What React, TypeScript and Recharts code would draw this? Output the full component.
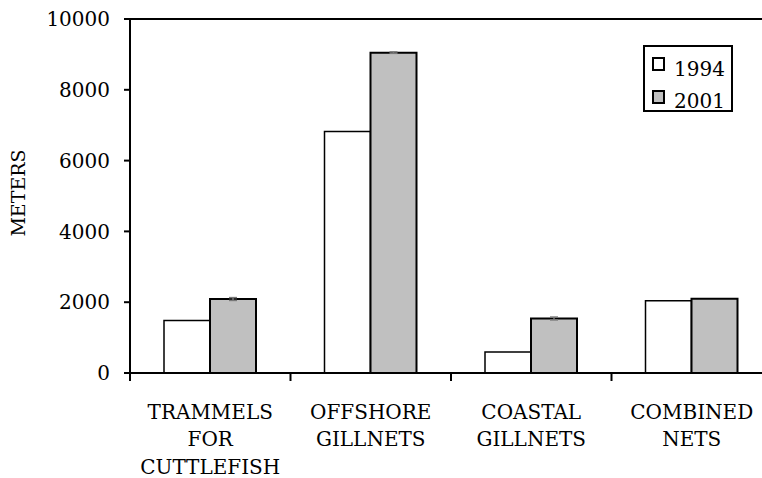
import { Bar, BarChart, ErrorBar, Legend, ReferenceLine, XAxis, YAxis } from 'recharts'

const categories = ['TRAMMELS\nFOR\nCUTTLEFISH', 'OFFSHORE\nGILLNETS', 'COASTAL\nGILLNETS', 'COMBINED\nNETS']
const meters1994 = [1480, 6820, 590, 2040]
const meters2001 = [2090, 9050, 1540, 2100]
const error2001 = [40, 20, 40, 0]
const yTicks = [0, 2000, 4000, 6000, 8000, 10000]
const years = ['1994', '2001']

const data = categories.map((name, i) => ({
  name,
  y1994: meters1994[i],
  y2001: meters2001[i],
  err: error2001[i],
}))

const FONT = '"DejaVu Serif", serif'
const W = 790
const H = 478
const margin = { top: 19, right: 18, left: 0, bottom: 0 }
const yAxisWidth = 130
const band = (W - margin.left - margin.right - yAxisWidth) / categories.length

function CategoryTick({ x, y, payload }: any) {
  const lines = String(payload.value).split('\n')
  const bx = x - band / 2
  return (
    <g>
      <line x1={bx} x2={bx} y1={y} y2={y + 8} stroke="#000" strokeWidth={2} />
      <text x={x} y={y + 45.5} textAnchor="middle" fontFamily={FONT} fontSize={20} fill="#000">
        {lines.map((l, i) => (
          <tspan key={i} x={x} dy={i === 0 ? 0 : 27.5}>
            {l}
          </tspan>
        ))}
      </text>
    </g>
  )
}

function YLabel() {
  return (
    <text
      x={25}
      y={193}
      transform="rotate(-90 25 193)"
      textAnchor="middle"
      fontFamily={FONT}
      fontSize={19}
      fill="#000"
    >
      METERS
    </text>
  )
}

function LegendBox() {
  const fills = ['#ffffff', '#c0c0c0']
  return (
    <svg width={90} height={72} style={{ overflow: 'visible' }}>
      <rect x={1} y={1} width={88} height={65} fill="#fff" stroke="#000" strokeWidth={2} />
      {years.map((yr, i) => (
        <g key={yr}>
          <rect x={10} y={13 + i * 33} width={11} height={12} fill={fills[i]} stroke="#000" strokeWidth={2} />
          <text x={31} y={31 + i * 32} fontFamily={FONT} fontSize={20} fill="#000">
            {yr}
          </text>
        </g>
      ))}
    </svg>
  )
}

export default function App() {
  return (
    <div
      style={{
        position: 'absolute',
        left: 0,
        top: 0,
        width: 762,
        height: 478,
        overflow: 'hidden',
        background: '#fff',
      }}
    >
      <BarChart width={W} height={H} data={data} margin={margin} barGap={0} barSize={46}>
        <XAxis
          dataKey="name"
          interval={0}
          height={105}
          tickSize={0}
          tickMargin={0}
          tickLine={false}
          axisLine={{ stroke: '#000', strokeWidth: 2 }}
          tick={<CategoryTick />}
        />
        <YAxis
          width={yAxisWidth}
          domain={[0, 10000]}
          ticks={yTicks}
          tickSize={6}
          tickMargin={14}
          axisLine={{ stroke: '#000', strokeWidth: 2 }}
          tickLine={{ stroke: '#000', strokeWidth: 2 }}
          tick={{ fill: '#000', fontSize: 20, fontFamily: FONT }}
          label={<YLabel />}
        />
        <ReferenceLine y={10000} stroke="#000" strokeWidth={2} />
        <Legend
          layout="vertical"
          align="center"
          verticalAlign="middle"
          content={<LegendBox />}
          wrapperStyle={{ left: 643, top: 45, width: 90, height: 72 }}
        />
        <Bar dataKey="y1994" name="1994" fill="#ffffff" stroke="#000" strokeWidth={1.5} isAnimationActive={false} />
        <Bar dataKey="y2001" name="2001" fill="#c0c0c0" stroke="#000" strokeWidth={2} isAnimationActive={false}>
          <ErrorBar dataKey="err" width={4} stroke="#777" strokeWidth={1.5} />
        </Bar>
      </BarChart>
    </div>
  )
}
